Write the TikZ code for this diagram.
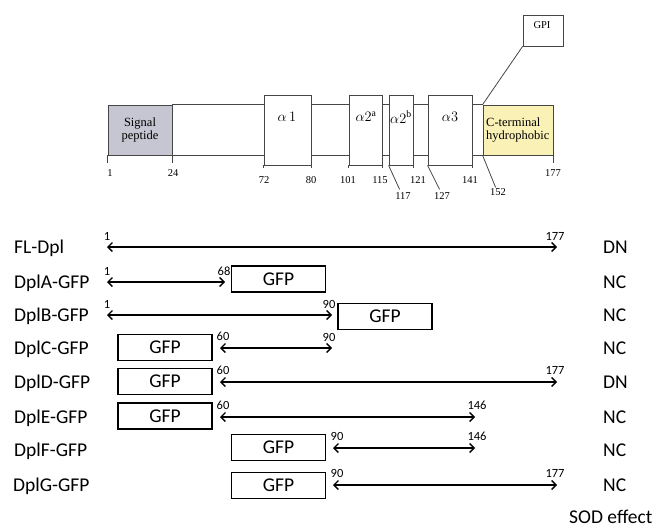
\documentclass[tikz,border=0pt]{standalone}
\usepackage{fontspec}
\setmainfont{Liberation Serif}
\newfontfamily\calibri{Carlito}
\usetikzlibrary{arrows.meta, positioning}

\definecolor{sigfill}{RGB}{198,198,210}
\definecolor{ctfill}{RGB}{250,241,182}
\definecolor{barline}{RGB}{70,70,70}

\tikzset{
  dom/.style={draw=barline, line width=0.8pt, fill=white, inner sep=0pt},
  tickline/.style={draw=barline, line width=0.8pt},
  boxtxt/.style={font=\fontsize{12.5}{13}\selectfont, inner sep=0pt},
  resid/.style={font=\fontsize{10.5}{12}\selectfont, inner sep=0pt},
  helix/.style={font=\fontsize{14}{16}\selectfont, inner sep=0pt},
  rowlbl/.style={font=\calibri\fontsize{19.5}{22}\selectfont, anchor=base west, inner sep=0pt},
  gfp/.style={draw, line width=1.2pt, minimum width=94pt, minimum height=26pt, inner sep=0pt,
    font=\calibri\fontsize{19.5}{22}\selectfont},
  cons/.style={line width=1.3pt, {Straight Barb[length=4.5pt,width=9pt]}-{Straight Barb[length=4.5pt,width=9pt]}},
  resnum/.style={font=\calibri\fontsize{12.5}{14}\selectfont, inner sep=0pt, anchor=base},
}

\begin{document}
\begin{tikzpicture}[x=1pt, y=-1pt]
  \useasboundingbox (0,0) rectangle (656,527);

  % Dpl domain structure
  \node[dom, fill=sigfill, minimum width=64pt, minimum height=50pt] (sp) at (140,130) {};
  \node[dom, fill=ctfill, minimum width=70pt, minimum height=50pt] (ct) at (518,130) {};
  \draw[tickline] (sp.north east) -- (ct.north west);
  \draw[tickline] (sp.south east) -- (ct.south west);
  \node[dom, minimum width=47pt, minimum height=70pt] (a1) at (287.5,130) {};
  \node[dom, minimum width=33pt, minimum height=70pt] (a2a) at (365.5,130) {};
  \node[dom, minimum width=24pt, minimum height=70pt] (a2b) at (401,130) {};
  \node[dom, minimum width=44pt, minimum height=70pt] (a3) at (450,130) {};
  \node[dom, minimum width=40pt, minimum height=31pt] (gpi) at (543,30.5) {};
  \draw[tickline] (gpi.south west) -- (ct.north west);

  \node[boxtxt, align=center] (sptxt) at (140,130) {Signal\\peptide};
  \node[boxtxt, align=left, anchor=west] (cttxt) at (486,130) {C-terminal\\hydrophobic};
  \node[resid] (gpitxt) at (542,25) {GPI};
  \node[helix] (a1txt) at (287,117) {$\alpha\,1$};
  \node[helix] (a2atxt) at (366,117) {$\alpha2^{\mathrm{a}}$};
  \node[helix] (a2btxt) at (401,117) {$\alpha2^{\mathrm{b}}$};
  \node[helix] (a3txt) at (450,117) {$\alpha3$};

  % residue ticks
  \draw[tickline] (sp.south west) -- ++(0,8);
  \draw[tickline] (sp.south east) -- ++(0,8);
  \draw[tickline] (ct.south east) -- ++(0,8);
  \draw[tickline] (a1.south west) -- ++(0,3);
  \draw[tickline] (a1.south east) -- ++(0,3);
  \draw[tickline] (a2a.south west) -- ++(0,3);
  \draw[tickline] (a2a.south east) -- ++(0,3);
  \draw[tickline] (a2b.south east) -- ++(0,3);
  \draw[tickline] (a3.south east) -- ++(0,3);
  \draw[tickline] (a2b.south west) -- ++(11,24);
  \draw[tickline] (a3.south west) -- ++(12,24);
  \draw[tickline] (ct.south west) -- ++(13,32);

  \node[resid] (p1) at (110,173) {1};
  \node[resid] (p24) at (173,173) {24};
  \node[resid] (p72) at (264,180) {72};
  \node[resid] (p80) at (311,180) {80};
  \node[resid] (p101) at (348,180) {101};
  \node[resid] (p115) at (380,180) {115};
  \node[resid] (p117) at (403,196) {117};
  \node[resid] (p121) at (418,180) {121};
  \node[resid] (p127) at (442,196) {127};
  \node[resid] (p141) at (470,180) {141};
  \node[resid] (p152) at (498,192) {152};
  \node[resid] (p177) at (553,173) {177};

  % constructs
  \node[rowlbl] (fl) at (14,253.5) {FL-Dpl};
  \node[rowlbl] (dpla) at (14,288.5) {DplA-GFP};
  \node[rowlbl] (dplb) at (14,321.5) {DplB-GFP};
  \node[rowlbl] (dplc) at (14,354.5) {DplC-GFP};
  \node[rowlbl] (dpld) at (14,388.5) {DplD-GFP};
  \node[rowlbl] (dple) at (14,423.5) {DplE-GFP};
  \node[rowlbl] (dplf) at (14,456) {DplF-GFP};
  \node[rowlbl] (dplg) at (13,491.5) {DplG-GFP};

  \node[gfp] (gfpa) at (278.5,279) {GFP};
  \node[gfp] (gfpb) at (385,316.5) {GFP};
  \node[gfp] (gfpc) at (165,347.5) {GFP};
  \node[gfp] (gfpd) at (165,381.5) {GFP};
  \node[gfp] (gfpe) at (165,416) {GFP};
  \node[gfp] (gfpf) at (278.5,447.5) {GFP};
  \node[gfp] (gfpg) at (278.5,485.5) {GFP};

  \coordinate (fl-l) at (107,247);  \coordinate (fl-r) at (557,247);
  \coordinate (a-l) at (107,282);   \coordinate (a-r) at (225,282);
  \coordinate (b-l) at (107,315);   \coordinate (b-r) at (332,315);
  \coordinate (c-l) at (220,348);   \coordinate (c-r) at (332,348);
  \coordinate (d-l) at (220,382);   \coordinate (d-r) at (557,382);
  \coordinate (e-l) at (220,417);   \coordinate (e-r) at (475,417);
  \coordinate (f-l) at (333,448);   \coordinate (f-r) at (475,448);
  \coordinate (g-l) at (333,485);   \coordinate (g-r) at (557,485);
  \draw[cons] (fl-l) -- (fl-r);
  \draw[cons] (a-l) -- (a-r);
  \draw[cons] (b-l) -- (b-r);
  \draw[cons] (c-l) -- (c-r);
  \draw[cons] (d-l) -- (d-r);
  \draw[cons] (e-l) -- (e-r);
  \draw[cons] (f-l) -- (f-r);
  \draw[cons] (g-l) -- (g-r);

  \node[resnum] (fl1) at (107,240) {1};     \node[resnum] (fl177) at (555,240) {177};
  \node[resnum] (a1n) at (107,275) {1};     \node[resnum] (a68) at (224,275) {68};
  \node[resnum] (b1n) at (107,308) {1};     \node[resnum] (b90) at (329,308) {90};
  \node[resnum] (c60) at (223,340) {60};    \node[resnum] (c90) at (329,341) {90};
  \node[resnum] (d60) at (223,374) {60};    \node[resnum] (d177) at (555,374) {177};
  \node[resnum] (e60) at (223,409) {60};    \node[resnum] (e146) at (477,409) {146};
  \node[resnum] (f90) at (337,440) {90};    \node[resnum] (f146) at (477,440) {146};
  \node[resnum] (g90) at (337,477) {90};    \node[resnum] (g177) at (555,477) {177};

  % SOD effect
  \node[rowlbl] (sfl) at (603,253.5) {DN};
  \node[rowlbl] (sa) at (603,288.5) {NC};
  \node[rowlbl] (sb) at (603,321.5) {NC};
  \node[rowlbl] (sc) at (603,354.5) {NC};
  \node[rowlbl] (sd) at (603,388.5) {DN};
  \node[rowlbl] (se) at (603,423.5) {NC};
  \node[rowlbl] (sf) at (603,456) {NC};
  \node[rowlbl] (sg) at (603,491.5) {NC};
  \node[rowlbl] (sod) at (569,523) {SOD effect};
\end{tikzpicture}
\end{document}
